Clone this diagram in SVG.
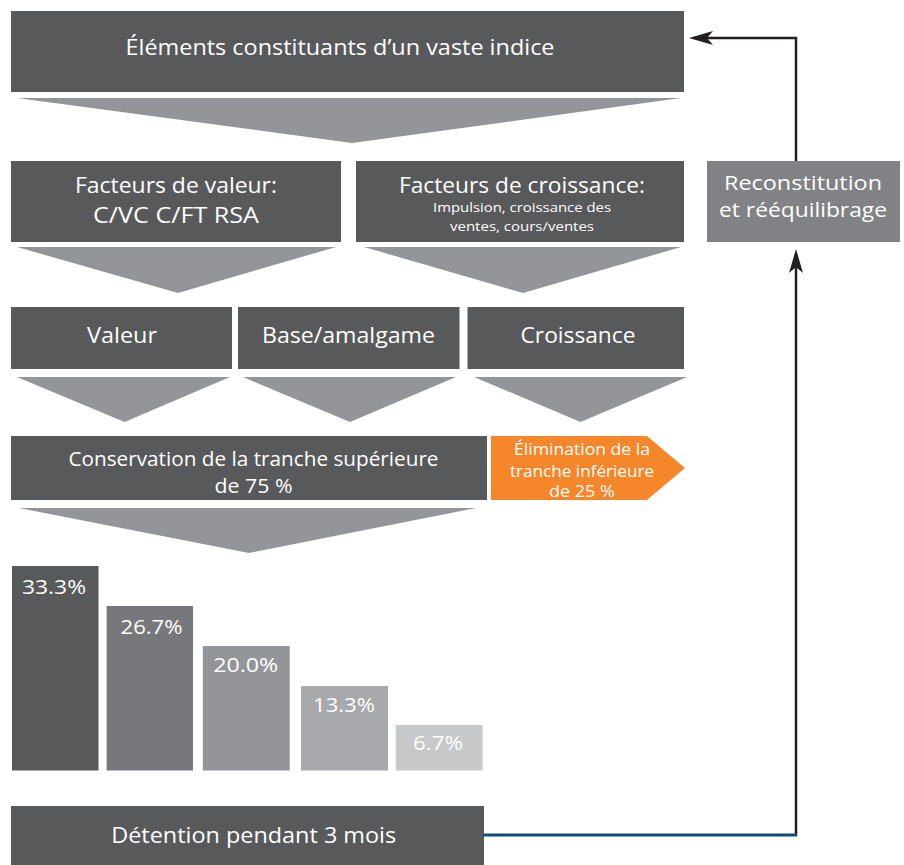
<svg xmlns="http://www.w3.org/2000/svg" width="904" height="865" viewBox="0 0 904 865">
<style>
.dk{fill:#58595b}
.tri{fill:#939598}
.t{fill:#ffffff;font-family:"Open Sans","Noto Sans","DejaVu Sans",sans-serif;text-anchor:middle}
.l{font-size:22px}
.r{font-size:20px}
.m{font-size:20px}
.s{font-size:13px}
.o{font-size:16px}
</style>
<defs>
<marker id="ah" viewBox="0 0 24 14" refX="18" refY="7" markerWidth="24" markerHeight="14" orient="auto" markerUnits="userSpaceOnUse">
<path d="M0,0 L24,7 L0,14 L6,7 Z" fill="#231f20"/>
</marker>
</defs>
<rect width="904" height="865" fill="#ffffff"/>

<g id="n-top">
<rect class="dk" x="11" y="11" width="673" height="81"/>
<text class="t l" x="340" y="55" textLength="429" lengthAdjust="spacingAndGlyphs">Éléments constituants d’un vaste indice</text>
</g>
<polygon class="tri" points="17,98 681,98 352,143"/>

<g id="n-fval">
<rect class="dk" x="11" y="161" width="330" height="81"/>
<text class="t l" x="176" y="193" textLength="202" lengthAdjust="spacingAndGlyphs">Facteurs de valeur:</text>
<text class="t l" x="176" y="223" textLength="166" lengthAdjust="spacingAndGlyphs">C/VC C/FT RSA</text>
</g>
<g id="n-fcro">
<rect class="dk" x="356" y="161" width="328" height="81"/>
<text class="t l" x="522" y="193" textLength="246" lengthAdjust="spacingAndGlyphs">Facteurs de croissance:</text>
<text class="t s" x="522" y="212" textLength="178" lengthAdjust="spacingAndGlyphs">Impulsion, croissance des</text>
<text class="t s" x="522" y="231" textLength="144" lengthAdjust="spacingAndGlyphs">ventes, cours/ventes</text>
</g>
<g id="n-recon">
<rect x="707" y="161" width="193" height="81" fill="#808285"/>
<text class="t r" x="803" y="190" textLength="158" lengthAdjust="spacingAndGlyphs">Reconstitution</text>
<text class="t r" x="803" y="217" textLength="168" lengthAdjust="spacingAndGlyphs">et rééquilibrage</text>
</g>
<polygon class="tri" points="17,247 336,247 178,293"/>
<polygon class="tri" points="364,247 681,247 523,293"/>

<g id="n-valeur">
<rect class="dk" x="11" y="307" width="221" height="62"/>
<text class="t l" x="122" y="343" textLength="70" lengthAdjust="spacingAndGlyphs">Valeur</text>
</g>
<g id="n-base">
<rect class="dk" x="238" y="307" width="221.5" height="62"/>
<text class="t l" x="348.5" y="343" textLength="173" lengthAdjust="spacingAndGlyphs">Base/amalgame</text>
</g>
<g id="n-crois">
<rect class="dk" x="467.5" y="307" width="216.5" height="62"/>
<text class="t l" x="578" y="343" textLength="115" lengthAdjust="spacingAndGlyphs">Croissance</text>
</g>
<polygon class="tri" points="17,377 230,377 124.6,422"/>
<polygon class="tri" points="243,377 456,377 350,422"/>
<polygon class="tri" points="474,377 687,377 580.5,422"/>

<g id="n-cons">
<rect class="dk" x="11" y="436" width="476" height="64"/>
<text class="t m" x="253.5" y="466" textLength="370" lengthAdjust="spacingAndGlyphs">Conservation de la tranche supérieure</text>
<text class="t m" x="253.5" y="493" textLength="78" lengthAdjust="spacingAndGlyphs">de 75 %</text>
</g>
<g id="n-elim">
<polygon points="491,436 647,436 685,468 647,500 491,500" fill="#f5862a"/>
<text class="t o" x="582" y="455" textLength="136" lengthAdjust="spacingAndGlyphs">Élimination de la</text>
<text class="t o" x="582" y="476.5" textLength="144" lengthAdjust="spacingAndGlyphs">tranche inférieure</text>
<text class="t o" x="582" y="497" textLength="66" lengthAdjust="spacingAndGlyphs">de 25 %</text>
</g>
<polygon class="tri" points="19,508 476,508 249,553"/>

<g id="n-bars">
<rect x="12" y="566" width="86.5" height="204.5" fill="#58595b"/>
<rect x="106.6" y="606" width="86.4" height="164.5" fill="#77787b"/>
<rect x="202.8" y="646" width="86.9" height="124.5" fill="#939598"/>
<rect x="301" y="686" width="87" height="84.5" fill="#a7a9ac"/>
<rect x="395.7" y="725" width="86.9" height="45.5" fill="#c7c8ca"/>
<text class="t m" x="54" y="594" textLength="64" lengthAdjust="spacingAndGlyphs">33.3%</text>
<text class="t m" x="151.5" y="634" textLength="62" lengthAdjust="spacingAndGlyphs">26.7%</text>
<text class="t m" x="245.7" y="672" textLength="65" lengthAdjust="spacingAndGlyphs">20.0%</text>
<text class="t m" x="344" y="712" textLength="62" lengthAdjust="spacingAndGlyphs">13.3%</text>
<text class="t m" x="438" y="750" textLength="50" lengthAdjust="spacingAndGlyphs">6.7%</text>
</g>

<g id="n-det">
<rect class="dk" x="11" y="806" width="473" height="59"/>
<text class="t l" x="253.7" y="843" textLength="285" lengthAdjust="spacingAndGlyphs">Détention pendant 3 mois</text>
</g>

<g id="connectors" fill="none">
<path d="M796,161 V38 H695" stroke="#231f20" stroke-width="2.5" marker-end="url(#ah)"/>
<path d="M796,836 V255" stroke="#231f20" stroke-width="2.5" marker-end="url(#ah)"/>
<path d="M483,835 H797" stroke="#124a7c" stroke-width="3"/>
</g>
</svg>
